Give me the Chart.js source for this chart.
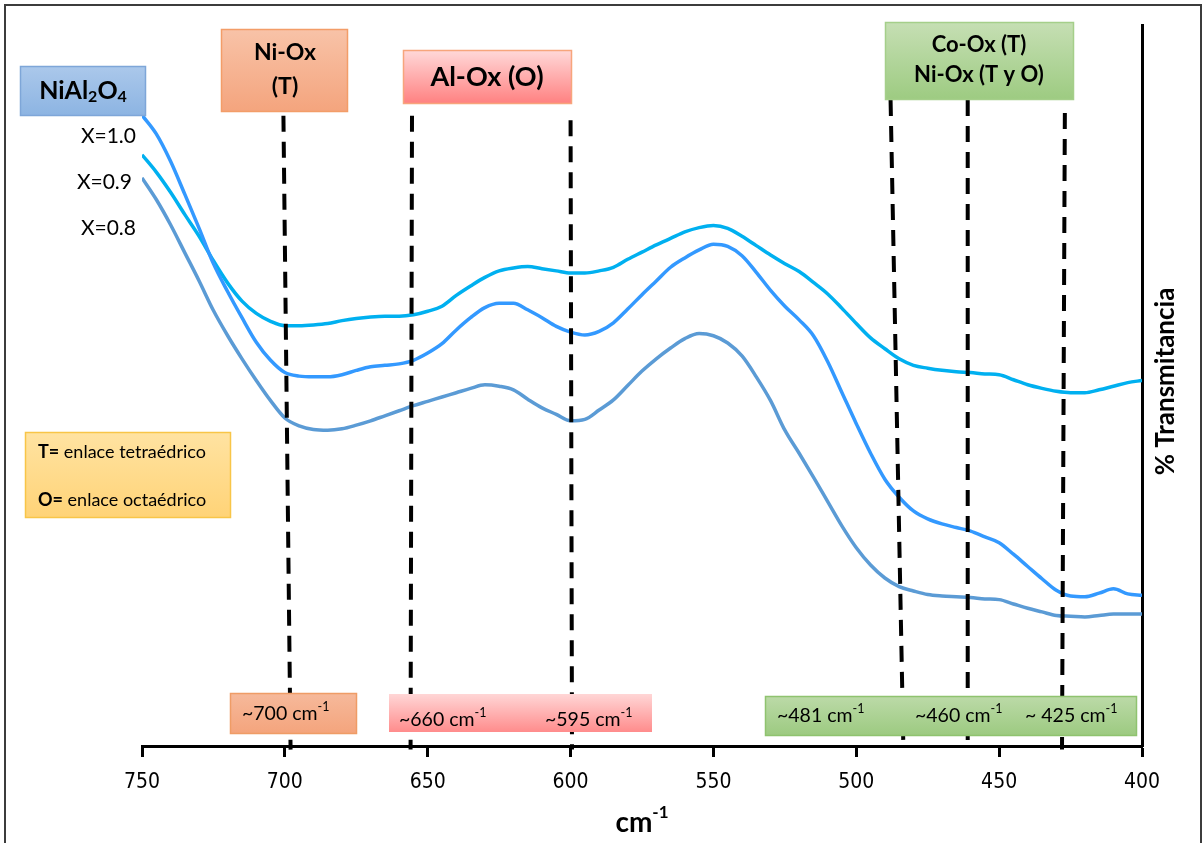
<!DOCTYPE html>
<html>
<head>
<meta charset="utf-8">
<title>FTIR NiAl2O4</title>
<script src="https://cdn.jsdelivr.net/npm/chart.js@4.4.1/dist/chart.umd.min.js"></script>
<style>
  html, body { margin: 0; padding: 0; background: #fff; }
  #wrap { width: 1204px; height: 843px; }
</style>
</head>
<body>
<div id="wrap"><canvas id="ftir" width="1204" height="843"></canvas></div>
<script>
// wavenumber grid (cm-1), one point every 5 cm-1
const wavenumbers = [750, 745, 740, 735, 730, 725, 720, 715, 710, 705, 700, 695, 690, 685, 680, 675, 670, 665, 660, 655,
  650, 645, 640, 635, 630, 625, 620, 615, 610, 605, 600, 595, 590, 585, 580, 575, 570, 565, 560, 555,
  550, 545, 540, 535, 530, 525, 520, 515, 510, 505, 500, 495, 490, 485, 480, 475, 470, 465, 460, 455,
  450, 445, 440, 435, 430, 425, 420, 415, 410, 405, 400];

// % transmittance (arbitrary offset) for each composition
const transX10 = [87.5, 84.9, 81.1, 76.5, 71.8, 66.9, 63.0, 59.4, 56.0, 53.5, 51.8, 51.3, 51.2, 51.2, 51.5, 52.1, 52.6, 52.8, 53.0, 53.5,
  54.5, 55.8, 57.7, 59.4, 60.8, 61.4, 61.4, 60.5, 59.4, 58.2, 57.4, 57.0, 57.5, 58.7, 60.6, 62.6, 64.5, 66.4, 67.7, 68.8,
  69.6, 69.3, 68.0, 65.7, 63.2, 61.0, 59.1, 56.9, 53.3, 49.0, 44.7, 40.6, 37.0, 34.5, 32.6, 31.5, 30.8, 30.3, 29.8, 29.0,
  28.2, 26.6, 24.9, 23.2, 21.6, 20.8, 20.7, 21.2, 21.8, 21.1, 20.9];
const transX09 = [82.0, 79.6, 76.8, 73.7, 70.7, 67.3, 64.2, 61.7, 60.0, 58.9, 58.3, 58.3, 58.4, 58.6, 59.0, 59.3, 59.5, 59.6, 59.6, 59.8,
  60.3, 61.0, 62.5, 63.8, 65.0, 65.9, 66.3, 66.5, 66.2, 65.9, 65.6, 65.6, 65.9, 66.4, 67.5, 68.5, 69.5, 70.4, 71.3, 71.9,
  72.2, 71.8, 70.7, 69.4, 68.1, 66.9, 65.8, 64.3, 62.7, 60.7, 58.6, 56.6, 55.1, 53.7, 52.8, 52.4, 52.1, 51.9, 51.8, 51.6,
  51.5, 50.8, 50.1, 49.6, 49.2, 49.0, 49.0, 49.4, 49.9, 50.4, 50.7];
const transX08 = [78.8, 75.8, 72.3, 68.4, 64.5, 60.4, 56.9, 53.7, 50.7, 47.9, 45.5, 44.4, 43.9, 43.8, 44.0, 44.5, 45.1, 45.8, 46.5, 47.2,
  47.8, 48.4, 49.0, 49.6, 50.1, 49.9, 49.4, 48.1, 46.9, 46.0, 45.1, 45.3, 46.6, 48.0, 50.0, 52.0, 53.7, 55.2, 56.5, 57.2,
  56.9, 55.9, 54.1, 51.2, 47.9, 43.8, 40.6, 37.3, 33.9, 30.5, 27.5, 25.1, 23.3, 22.1, 21.5, 21.0, 20.8, 20.7, 20.6, 20.4,
  20.3, 19.7, 19.1, 18.6, 18.1, 18.0, 17.9, 18.1, 18.3, 18.3, 18.3];

const seriesNames = ['X=1.0', 'X=0.9', 'X=0.8'];

// band markers: dashed guides run from the top end to the axis
const bandTopCm = [700.5, 655.5, 600, 488, 461, 427];
const bandBottomCm = [698, 656, 599.5, 483.5, 461, 428];
const bandTopT = [87.4, 87.4, 86.8, 89.6, 89.6, 87.8];
const bandLabels = ['~700', '~660', '~595', '~481', '~460', '~ 425'];

const FONT = 'Lato, "Open Sans", sans-serif';

function toPoints(vals) {
  return wavenumbers.map((w, i) => ({ x: w, y: vals[i] }));
}

function box(ctx, x0, y0, x1, y1, c0, c1, edge) {
  const g = ctx.createLinearGradient(0, y0, 0, y1);
  g.addColorStop(0, c0);
  g.addColorStop(1, c1);
  ctx.fillStyle = g;
  ctx.fillRect(x0, y0, x1 - x0, y1 - y0);
  if (edge) {
    ctx.strokeStyle = edge;
    ctx.lineWidth = 1.5;
    ctx.strokeRect(x0 + 0.5, y0 + 0.5, x1 - x0 - 1, y1 - y0 - 1);
  }
}

// draws a run of [text, size, weight, yShift] pieces on one line
function runs(ctx, parts, x, y, align) {
  let w = 0;
  parts.forEach(p => { ctx.font = `${p[2]} ${p[1]}px ${FONT}`; w += ctx.measureText(p[0]).width; });
  let cx = align === 'center' ? x - w / 2 : x;
  ctx.textAlign = 'left';
  ctx.textBaseline = 'middle';
  parts.forEach(p => {
    ctx.font = `${p[2]} ${p[1]}px ${FONT}`;
    ctx.fillText(p[0], cx, y + (p[3] || 0));
    cx += ctx.measureText(p[0]).width;
  });
}

function cmLabel(ctx, txt, x, y) {
  runs(ctx, [[txt + ' cm', 19.5, 'normal', 0], ['-1', 12.5, 'normal', -7]], x, y, 'left');
}

const overlay = {
  id: 'overlay',
  beforeDraw(chart) {
    const ctx = chart.ctx;
    ctx.save();
    ctx.fillStyle = '#fff';
    ctx.fillRect(0, 0, chart.width, chart.height);
    ctx.strokeStyle = '#3c3c3c';
    ctx.lineWidth = 2;
    ctx.beginPath();
    ctx.moveTo(5, 843); ctx.lineTo(5, 5); ctx.lineTo(1201, 5); ctx.lineTo(1201, 843);
    ctx.stroke();
    ctx.restore();
  },
  afterDraw(chart) {
    const { ctx, scales: { x, y } } = chart;
    ctx.save();

    // dashed band guides
    ctx.strokeStyle = '#000';
    ctx.lineWidth = 4;
    ctx.setLineDash([16, 10]);
    bandTopCm.forEach((cm, i) => {
      ctx.beginPath();
      ctx.moveTo(x.getPixelForValue(cm), y.getPixelForValue(bandTopT[i]));
      ctx.lineTo(x.getPixelForValue(bandBottomCm[i]), y.getPixelForValue(-0.5));
      ctx.stroke();
    });
    ctx.setLineDash([]);

    // sample name and compositions
    box(ctx, 20, 66, 146, 116, '#abc8eb', '#8cb4e2', '#7ea6d8');
    ctx.fillStyle = '#000';
    runs(ctx, [['NiAl', 25, 'bold', 0], ['2', 16, 'bold', 6], ['O', 25, 'bold', 0], ['4', 16, 'bold', 6]], 83, 91, 'center');
    ctx.font = `normal 21px ${FONT}`;
    ctx.textAlign = 'right';
    ctx.textBaseline = 'middle';
    ctx.fillText(seriesNames[0], 136, 136);
    ctx.fillText(seriesNames[1], 132, 182);
    ctx.fillText(seriesNames[2], 136, 228);

    // assignment boxes on top
    box(ctx, 221, 29, 348, 112, '#f8c3a8', '#f4a47d', '#f39d68');
    ctx.fillStyle = '#000';
    runs(ctx, [['Ni-Ox', 23, 'bold', 0]], 285, 53, 'center');
    runs(ctx, [['(T)', 23, 'bold', 0]], 285, 87, 'center');

    box(ctx, 403, 50, 572, 104, '#ffd9d9', '#ff8080', '#f7a57c');
    ctx.fillStyle = '#000';
    runs(ctx, [['Al-Ox (O)', 27, 'bold', 0]], 487, 77, 'center');

    box(ctx, 885, 22, 1074, 100, '#c6dfb4', '#9dcb81', '#a5cf8a');
    ctx.fillStyle = '#000';
    runs(ctx, [['Co-Ox (T)', 22, 'bold', 0]], 979, 45, 'center');
    runs(ctx, [['Ni-Ox (T y O)', 22, 'bold', 0]], 979, 75, 'center');

    // bond type key
    box(ctx, 25, 432, 231, 518, '#ffe3a2', '#ffd377', '#f8c548');
    ctx.fillStyle = '#000';
    runs(ctx, [['T=', 18, 'bold', 0], [' enlace tetraédrico', 18, 'normal', 0]], 38, 452, 'left');
    runs(ctx, [['O=', 18, 'bold', 0], [' enlace octaédrico', 18, 'normal', 0]], 38, 500, 'left');

    // wavenumber labels near the axis
    box(ctx, 230, 693, 357, 734, '#f6b99b', '#f4a47c', '#ef9c66');
    box(ctx, 389, 694, 652, 732, '#ffd6d6', '#ff8c8c', null);
    box(ctx, 765, 696, 1137, 736, '#bcdaa8', '#9cca80', '#8fc36f');
    ctx.fillStyle = '#000';
    cmLabel(ctx, bandLabels[0], 242, 714);
    cmLabel(ctx, bandLabels[1], 399, 720);
    cmLabel(ctx, bandLabels[2], 545, 720);
    cmLabel(ctx, bandLabels[3], 777, 716);
    cmLabel(ctx, bandLabels[4], 915, 716);
    cmLabel(ctx, bandLabels[5], 1025, 716);

    // axis titles
    const midX = (chart.chartArea.left + chart.chartArea.right) / 2;
    runs(ctx, [['cm', 28, 'bold', 0], ['-1', 17, 'bold', -10]], midX, 823, 'center');
    ctx.translate(chart.chartArea.right + 24, (chart.chartArea.top + chart.chartArea.bottom) / 2 - 4);
    ctx.rotate(-Math.PI / 2);
    runs(ctx, [['% Transmitancia', 26, 'bold', 0]], 0, 0, 'center');

    ctx.restore();
  }
};

new Chart(document.getElementById('ftir'), {
  type: 'line',
  data: {
    datasets: [
      { label: seriesNames[0], data: toPoints(transX10), borderColor: '#3399ff', borderWidth: 3.5 },
      { label: seriesNames[1], data: toPoints(transX09), borderColor: '#00b0f0', borderWidth: 3.5 },
      { label: seriesNames[2], data: toPoints(transX08), borderColor: '#5b9bd5', borderWidth: 3.5 }
    ]
  },
  options: {
    responsive: false,
    animation: false,
    elements: { point: { radius: 0 }, line: { cubicInterpolationMode: 'monotone', fill: false } },
    layout: { padding: { left: 142, right: 52, top: 25, bottom: 0 } },
    plugins: { legend: { display: false }, tooltip: { enabled: false } },
    scales: {
      x: {
        type: 'linear',
        reverse: true,
        min: 400,
        max: 750,
        ticks: {
          stepSize: 50,
          color: '#000',
          padding: 13,
          maxRotation: 0,
          font: { family: '"Liberation Sans Narrow", "DejaVu Sans Condensed", Lato, sans-serif', size: 21 }
        },
        grid: { drawOnChartArea: false, tickLength: 11, tickWidth: 3, color: '#000' },
        border: { color: '#000', width: 3 },
        afterFit: s => { s.height = 97; }
      },
      y: {
        position: 'right',
        min: 0,
        max: 100,
        ticks: { display: false },
        grid: { drawOnChartArea: false, tickLength: 0, display: false },
        border: { color: '#000', width: 3 },
        afterFit: s => { s.width = 10; }
      }
    }
  },
  plugins: [overlay]
});
</script>
</body>
</html>
